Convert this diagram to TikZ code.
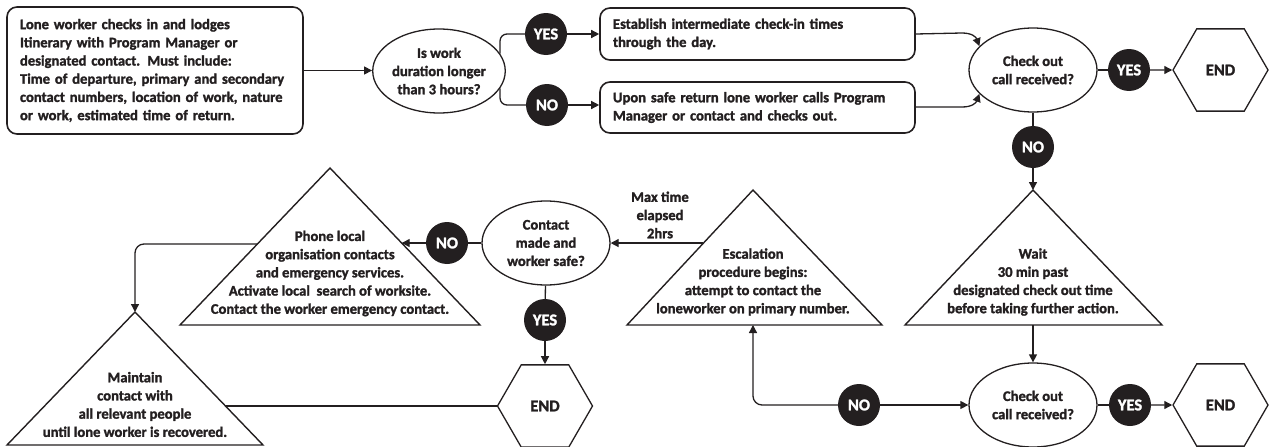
\documentclass[tikz,border=0pt]{standalone}
\usepackage{fontspec}
\setmainfont{Carlito}[BoldFeatures={FakeBold=1.6}]
\usetikzlibrary{arrows.meta,shapes.geometric,calc}
\definecolor{ink}{RGB}{35,31,32}
\begin{document}
\begin{tikzpicture}[x=1pt,y=-1pt,
  every node/.style={font=\fontsize{14.6}{18.2}\selectfont\bfseries, text=ink},
  box/.style={draw=ink, line width=1.6pt, rounded corners=10pt, align=left, inner xsep=13pt, inner ysep=0pt},
  dec/.style={ellipse, draw=ink, line width=1.3pt, minimum width=128pt, minimum height=84pt, inner sep=0pt, align=center},
  yn/.style={circle, fill=ink, text=white, minimum size=42pt, inner sep=0pt, font=\fontsize{16.5}{18}\selectfont\bfseries},
  hexa/.style={regular polygon, regular polygon sides=6, draw=ink, line width=1.3pt, minimum size=95pt, inner sep=0pt, font=\fontsize{16.5}{18}\selectfont\bfseries},
  tri/.style={draw=ink, line width=1.4pt, line join=miter},
  lbl/.style={align=center, inner sep=0pt},
  conn/.style={draw=ink, line width=1.3pt},
  arr/.style={conn, -{Triangle[length=8pt,width=8pt]}},
  ]
\useasboundingbox (0,0) rectangle (1270,447);

% ---- top row
\node[box, text width=270pt, minimum height=127pt] (b1) at (155,70.5) {Lone worker checks in and lodges\\ Itinerary with Program Manager or\\ designated contact. Must include:\\ Time of departure, primary and secondary\\ contact numbers, location of work, nature\\ or work, estimated time of return.};
\node[dec] (e1) at (439,71) {Is work\\ duration longer\\ than 3 hours?};
\node[yn] (yes1) at (546,34) {YES};
\node[yn] (no1) at (547,105) {NO};
\node[box, text width=289pt, minimum height=52pt] (b2) at (757.5,34) {Establish intermediate check-in times\\ through the day.};
\node[box, text width=289pt, minimum height=51pt] (b3) at (757.5,107.5) {Upon safe return lone worker calls Program\\ Manager or contact and checks out.};
\node[dec] (e2) at (1033,70) {Check out\\ call received?};
\node[yn] (yes2) at (1129,70) {YES};
\node[hexa] (end1) at (1220.5,70) {END};
\node[yn] (no2) at (1033,147) {NO};

% ---- triangles
\coordinate (waitA) at (1033,190); \coordinate (waitL) at (905,325); \coordinate (waitR) at (1162,325);
\coordinate (waitB) at (1033,325);
\draw[tri] (waitA) -- (waitL) -- (waitR) -- cycle;
\node[lbl] (wait) at (1033,282) {Wait\\ 30 min past\\ designated check out time\\ before taking further action.};

\coordinate (escA) at (753,190); \coordinate (escL) at (627,325); \coordinate (escR) at (882,325);
\coordinate (escB) at (753,325);
\draw[tri] (escA) -- (escL) -- (escR) -- cycle;
\node[lbl] (esc) at (753,282) {Escalation\\ procedure begins:\\ attempt to contact the\\ loneworker on primary number.};

\coordinate (phA) at (330,168); \coordinate (phL) at (180,325); \coordinate (phR) at (480,325);
\draw[tri] (phA) -- (phL) -- (phR) -- cycle;
\node[lbl] (phone) at (330,273.5) {Phone local\\ organisation contacts\\ and emergency services.\\ Activate local\ \ search of worksite.\\ Contact the worker emergency contact.};

\coordinate (mtA) at (135,312); \coordinate (mtL) at (7,445); \coordinate (mtR) at (263,445);
\draw[tri] (mtA) -- (mtL) -- (mtR) -- cycle;
\node[lbl] (maint) at (135,404.5) {Maintain\\ contact with\\ all relevant people\\ until lone worker is recovered.};

% ---- lower row
\node[dec] (e3) at (546,243) {Contact\\ made and\\ worker safe?};
\node[lbl] (maxt) at (660,215) {Max time\\ elapsed\\ 2hrs};
\node[yn] (no3) at (447,243) {NO};
\node[yn] (yes3) at (545,320) {YES};
\node[hexa] (end3) at (545,406) {END};
\node[dec] (e4) at (1033,405) {Check out\\ call received?};
\node[yn] (no4) at (859,405) {NO};
\node[yn] (yes4) at (1130,405) {YES};
\node[hexa] (end4) at (1220.5,405) {END};

% ---- connectors
\draw[arr] (b1.east) -- (b1.east -| e1.west);
\draw[conn, rounded corners=7pt] (e1.16) |- (yes1);
\draw[conn, rounded corners=7pt] (e1.-16) |- (no1);
\draw[arr] (yes1) -- (yes1 -| b2.west);
\draw[arr] (no1) -- (no1 -| b3.west);
\draw[arr] (b2.east) -- (962,33) .. controls (972,33) and (976,37) .. (e2.156);
\draw[arr] (b3.east |- 0,107) -- (962,107) .. controls (972,107) and (976,103) .. (e2.204);
\draw[conn] (e2) -- (yes2);
\draw[arr] (yes2) -- (end1);
\draw[conn] (e2) -- (no2);
\draw[arr] (no2) -- (waitA);
\draw[arr] (waitB) -- (e4);
\draw[conn] (e4) -- (yes4);
\draw[arr] (yes4) -- (end4);
\draw[arr] (no4) -- (e4);
\draw[arr, rounded corners=9pt] (no4) -| (escB);
\coordinate (escE) at ($(escA)!0.393!(escL)$);
\draw[arr] (escE) -- (escE -| e3.east);
\draw[conn] (e3) -- (no3);
\coordinate (phE) at ($(phA)!0.478!(phR)$);
\draw[arr] (no3) -- (no3 -| phE);
\draw[conn] (e3) -- (yes3);
\draw[arr] (yes3) -- (end3);
\coordinate (phW) at ($(phA)!0.484!(phL)$);
\draw[arr, rounded corners=9pt] (phW) -| (mtA);
\coordinate (mtE) at ($(mtA)!0.707!(mtR)$);
\draw[conn] (mtE) -- (mtE -| end3.west);
\end{tikzpicture}
\end{document}
